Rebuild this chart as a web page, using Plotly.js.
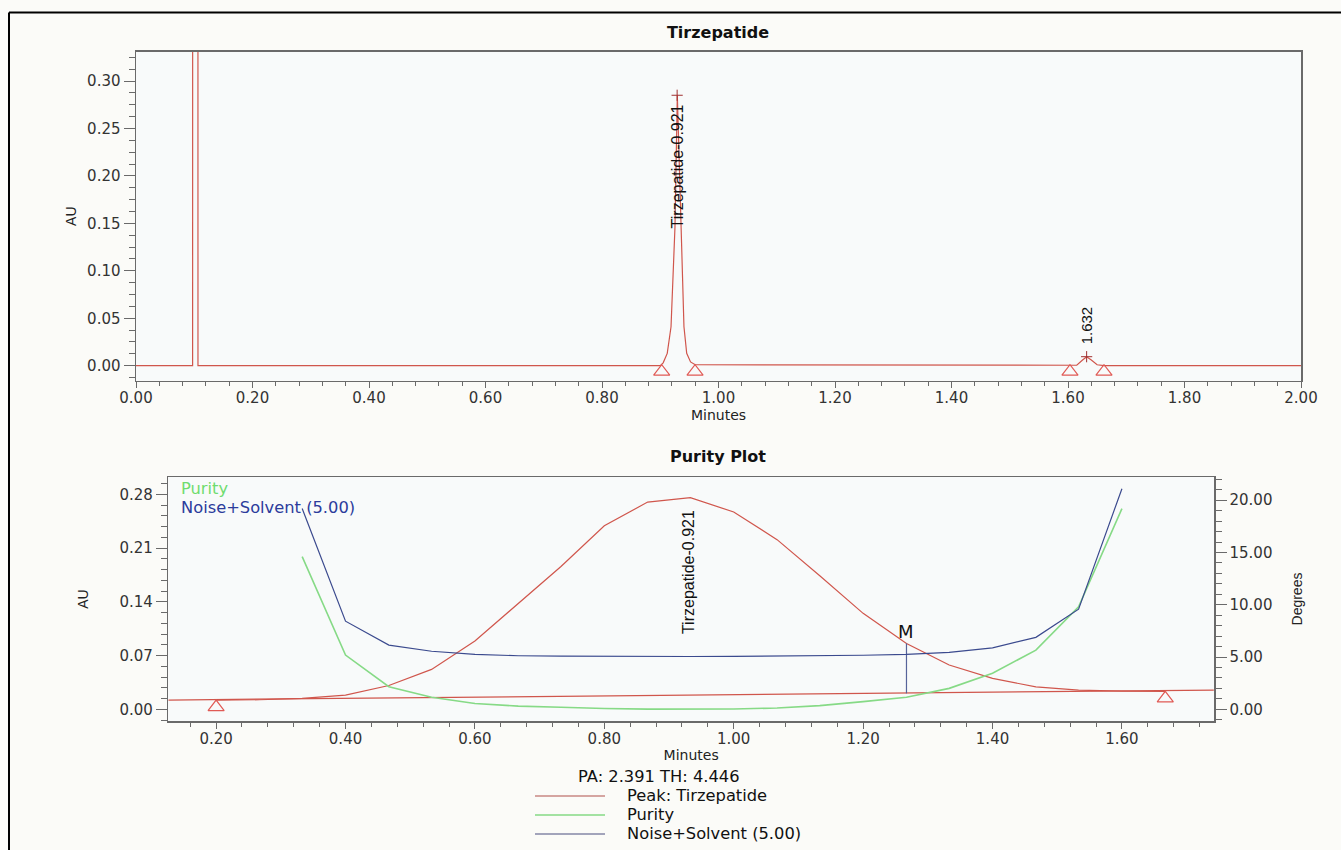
<!DOCTYPE html>
<html><head><meta charset="utf-8">
<script src="https://cdn.plot.ly/plotly-3.0.1.min.js"></script>
<style>html,body{margin:0;padding:0;background:#fbfbf8;} #chart{width:1341px;height:850px;}</style>
</head><body><div id="chart"></div>
<script>
// ---------- Top chromatogram (Minutes vs AU) ----------
const chromTime = [0.000, 0.0972, 0.0973, 0.1063, 0.1064, 0.900, 0.905, 0.912, 0.9185, 0.9253, 0.9293, 0.9351, 0.9407, 0.9454, 0.952, 0.960, 1.603, 1.615, 1.625, 1.632, 1.640, 1.650, 1.662, 2.000];
const chromAU   = [0.000, 0.000, 0.600, 0.600, 0.000, 0.000, 0.003, 0.013, 0.041, 0.1465, 0.285, 0.1465, 0.041, 0.013, 0.004, 0.001, 0.000, 0.0005, 0.006, 0.0095, 0.006, 0.001, 0.000, 0.000];
const boundTimeTop = [0.9025, 0.9597, 1.6034, 1.6618];
const boundAUTop   = [-0.0063, -0.0063, -0.0063, -0.0063];
const apexTime  = [0.929, 1.632];
const apexAU    = [0.285, 0.0095];
const apexLabel = ['Tirzepatide-0.921', '1.632'];

// ---------- Purity plot ----------
const spectTime   = [0.333, 0.400, 0.467, 0.533, 0.600, 0.667, 0.733, 0.800, 0.867, 0.933, 1.000, 1.067, 1.133, 1.200, 1.267, 1.333, 1.400, 1.467, 1.533, 1.600];
const purityAngle = [14.6, 5.19, 2.16, 1.15, 0.55, 0.30, 0.20, 0.07, 0.02, 0.00, 0.03, 0.12, 0.35, 0.73, 1.15, 2.00, 3.44, 5.66, 9.80, 19.2];
const noiseAngle  = [19.2, 8.43, 6.14, 5.55, 5.25, 5.12, 5.08, 5.05, 5.05, 5.05, 5.06, 5.08, 5.12, 5.17, 5.25, 5.45, 5.88, 6.88, 9.58, 21.1];
const peakTime = [0.200, 0.267, 0.333, 0.400, 0.467, 0.533, 0.600, 0.667, 0.733, 0.800, 0.867, 0.933, 1.000, 1.067, 1.133, 1.200, 1.267, 1.333, 1.400, 1.467, 1.533, 1.600, 1.667];
const peakAU   = [0.0118, 0.0125, 0.0143, 0.0186, 0.031, 0.052, 0.089, 0.138, 0.186, 0.239, 0.270, 0.2757, 0.257, 0.221, 0.174, 0.125, 0.0857, 0.0577, 0.0403, 0.0292, 0.025, 0.0237, 0.0232];
const baseTime = [0.126, 1.742];
const baseAU   = [0.0121, 0.0251];
const boundTimeBot = [0.200, 1.667];
const boundAUBot   = [0.003, 0.0143];
const maxTime = [1.267, 1.267];
const maxAU   = [0.0208, 0.0858];
const peakName = 'Tirzepatide-0.921';
const paText = 'PA: 2.391 TH: 4.446';
const legendNames = ['Peak: Tirzepatide', 'Purity', 'Noise+Solvent (5.00)'];

const RED = '#d0564c', GREEN = '#86da86', BLUE = '#3b4a8e';
const W = 1341, H = 850;
const px = v => v / W, py = v => 1 - v / H;

const traces = [
  {x: chromTime, y: chromAU, xaxis: 'x', yaxis: 'y', mode: 'lines', line: {color: RED, width: 1.2}, hoverinfo: 'skip'},
  {x: boundTimeTop, y: boundAUTop, xaxis: 'x', yaxis: 'y', mode: 'markers', marker: {symbol: 'triangle-up-open', size: 14, color: '#e05a55', line: {width: 1.2}}},
  {x: apexTime, y: apexAU, xaxis: 'x', yaxis: 'y', mode: 'markers', marker: {symbol: 'cross-thin-open', size: 8, color: '#a03030', line: {width: 1}}},
  {x: baseTime, y: baseAU, xaxis: 'x2', yaxis: 'y3', mode: 'lines', line: {color: RED, width: 1.2}},
  {x: peakTime, y: peakAU, xaxis: 'x2', yaxis: 'y3', mode: 'lines', line: {color: RED, width: 1.2}, name: legendNames[0]},
  {x: maxTime, y: maxAU, xaxis: 'x2', yaxis: 'y3', mode: 'lines', line: {color: '#56639a', width: 1.2}},
  {x: boundTimeBot, y: boundAUBot, xaxis: 'x2', yaxis: 'y3', mode: 'markers', marker: {symbol: 'triangle-up-open', size: 14, color: '#e05a55', line: {width: 1.2}}},
  {x: spectTime, y: purityAngle, xaxis: 'x2', yaxis: 'y4', mode: 'lines', line: {color: GREEN, width: 1.6}, name: legendNames[1]},
  {x: spectTime, y: noiseAngle, xaxis: 'x2', yaxis: 'y4', mode: 'lines', line: {color: BLUE, width: 1.2}, name: legendNames[2]}
];

const tickFont = {family: 'DejaVu Sans', size: 15, color: '#333'};
const axBase = {showline: true, linecolor: '#6a6a6a', linewidth: 1.5, mirror: true, ticks: 'outside', tickcolor: '#6a6a6a', tickwidth: 1,
  showgrid: false, zeroline: false, tickfont: tickFont, automargin: false, fixedrange: true};
const legFont = {family: 'DejaVu Sans', size: 16.3, color: '#111'};

const layout = {
  width: W, height: H, margin: {l: 0, r: 0, t: 0, b: 0},
  paper_bgcolor: '#fbfbf8', plot_bgcolor: '#f8fafa', showlegend: false,
  font: {family: 'DejaVu Sans', size: 15, color: '#222'},
  title: {text: '<b>Tirzepatide</b>', x: px(718), xanchor: 'center', y: py(32), yanchor: 'middle', font: {family: 'DejaVu Sans', size: 16, color: '#111'}},
  xaxis: Object.assign({}, axBase, {domain: [px(136), px(1301)], anchor: 'y', range: [0, 2], tick0: 0, dtick: 0.2, tickformat: '.2f', ticklen: 6, ticklabelstandoff: -3,
    minor: {ticks: 'outside', dtick: 0.04, ticklen: 4, tickcolor: '#6a6a6a', showgrid: false},
    title: {text: 'Minutes', standoff: 0, font: {family: 'DejaVu Sans', size: 14, color: '#222'}}}),
  yaxis: Object.assign({}, axBase, {domain: [py(380.7), py(51.7)], anchor: 'x', range: [-0.0158, 0.3309], tick0: 0, dtick: 0.05, tickformat: '.2f', ticklen: 11,
    minor: {ticks: 'outside', dtick: 0.0125, ticklen: 6, tickcolor: '#6a6a6a', showgrid: false},
    title: {text: 'AU', standoff: 7, font: {family: 'Liberation Sans', size: 14, color: '#222'}}}),
  xaxis2: Object.assign({}, axBase, {domain: [px(168.3), px(1214)], anchor: 'y3', range: [0.1261, 1.7423], tick0: 0, dtick: 0.2, tickformat: '.2f', ticklen: 6, ticklabelstandoff: -3,
    minor: {ticks: 'outside', dtick: 0.04, ticklen: 4, tickcolor: '#6a6a6a', showgrid: false},
    title: {text: 'Minutes', standoff: 0, font: {family: 'DejaVu Sans', size: 14, color: '#222'}}}),
  yaxis3: Object.assign({}, axBase, {domain: [py(721), py(477)], anchor: 'x2', range: [-0.0152, 0.3026], tick0: 0, dtick: 0.07, tickformat: '.2f', ticklen: 11,
    minor: {ticks: 'outside', dtick: 0.014, ticklen: 6, tickcolor: '#6a6a6a', showgrid: false},
    title: {text: 'AU', standoff: 27, font: {family: 'Liberation Sans', size: 14, color: '#222'}}}),
  yaxis4: Object.assign({}, axBase, {overlaying: 'y3', anchor: 'x2', side: 'right', mirror: false, range: [-1.12, 22.22], tick0: 0, dtick: 5, tickformat: '.2f', ticklen: 11,
    minor: {ticks: 'outside', dtick: 1, ticklen: 6, tickcolor: '#6a6a6a', showgrid: false},
    title: {text: 'Degrees', standoff: 20, font: {family: 'Liberation Sans', size: 14, color: '#222'}}}),
  shapes: [
    {type: 'line', xref: 'paper', yref: 'paper', x0: px(9), x1: 1, y0: py(12.5), y1: py(12.5), line: {color: '#000', width: 2}},
    {type: 'line', xref: 'paper', yref: 'paper', x0: px(9), x1: px(9), y0: py(12.5), y1: 0, line: {color: '#000', width: 2}},
    {type: 'line', xref: 'paper', yref: 'paper', x0: px(535), x1: px(605), y0: py(796), y1: py(796), line: {color: '#b0504a', width: 1.2}},
    {type: 'line', xref: 'paper', yref: 'paper', x0: px(535), x1: px(605), y0: py(815), y1: py(815), line: {color: GREEN, width: 1.5}},
    {type: 'line', xref: 'paper', yref: 'paper', x0: px(535), x1: px(605), y0: py(834), y1: py(834), line: {color: '#4a4f7e', width: 1.2}}
  ],
  annotations: [
    {xref: 'x', yref: 'y', x: apexTime[0], y: apexAU[0], text: apexLabel[0], textangle: -90, showarrow: false, yanchor: 'top', xanchor: 'center', yshift: -7,
      font: {family: 'Liberation Sans', size: 16, color: '#111'}},
    {xref: 'x', yref: 'y', x: apexTime[1], y: apexAU[1], text: apexLabel[1], textangle: -90, showarrow: false, yanchor: 'bottom', xanchor: 'center', yshift: 10,
      font: {family: 'Liberation Sans', size: 15, color: '#111'}},
    {xref: 'paper', yref: 'paper', x: px(718), y: py(457), text: '<b>Purity Plot</b>', showarrow: false, xanchor: 'center', yanchor: 'middle',
      font: {family: 'DejaVu Sans', size: 16, color: '#111'}},
    {xref: 'x2', yref: 'y3', x: 0.930, y: peakAU[11], text: peakName, textangle: -90, showarrow: false, yanchor: 'top', xanchor: 'center', yshift: -10,
      font: {family: 'Liberation Sans', size: 16, color: '#111'}},
    {xref: 'x2', yref: 'y3', x: maxTime[1], y: maxAU[1], text: 'M', showarrow: false, yanchor: 'bottom', xanchor: 'center', yshift: -1,
      font: {family: 'DejaVu Sans', size: 18, color: '#111'}},
    {xref: 'paper', yref: 'paper', x: px(179), y: py(488.5), text: legendNames[1], showarrow: false, xanchor: 'left', yanchor: 'middle',
      font: Object.assign({}, legFont, {color: '#6fdc6f'})},
    {xref: 'paper', yref: 'paper', x: px(179), y: py(507.5), text: legendNames[2], showarrow: false, xanchor: 'left', yanchor: 'middle',
      font: Object.assign({}, legFont, {color: '#2c3c9c'})},
    {xref: 'paper', yref: 'paper', x: px(576), y: py(776), text: paText, showarrow: false, xanchor: 'left', yanchor: 'middle', font: legFont},
    {xref: 'paper', yref: 'paper', x: px(625), y: py(795), text: legendNames[0], showarrow: false, xanchor: 'left', yanchor: 'middle', font: legFont},
    {xref: 'paper', yref: 'paper', x: px(625), y: py(814), text: legendNames[1], showarrow: false, xanchor: 'left', yanchor: 'middle', font: legFont},
    {xref: 'paper', yref: 'paper', x: px(625), y: py(833), text: legendNames[2], showarrow: false, xanchor: 'left', yanchor: 'middle', font: legFont}
  ]
};

Plotly.newPlot('chart', traces, layout, {displayModeBar: false, staticPlot: true});
</script>
</body></html>
